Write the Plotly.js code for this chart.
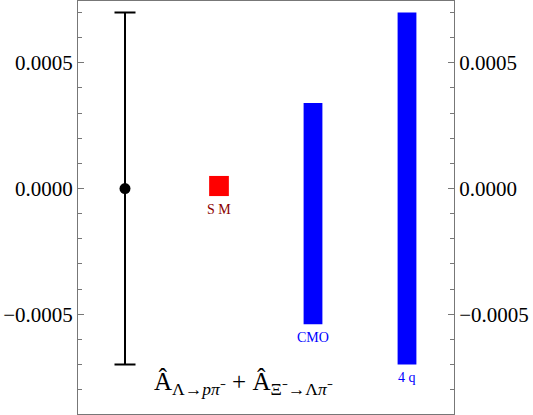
<!DOCTYPE html>
<html>
<head>
<meta charset="utf-8">
<script src="https://cdn.plot.ly/plotly-3.0.1.min.js"></script>
<style>
  body { margin: 0; background: #fff; }
  #plot { width: 533px; height: 415px; }
</style>
</head>
<body>
<div id="plot"></div>
<script>
// measured value (with error) and predictions
var expX = [1];
var expY = [0];
var expErr = [0.0007];

var predNames = ['SM', 'CMO', '4q'];
var predX = [2, 3, 4];
var predLow = [-0.00003, -0.00054, -0.0007];
var predHigh = [0.00005, 0.00034, 0.0007];
var predColors = ['#ff0000', '#0000ff', '#0000ff'];
var labelText = ['S M', 'CMO', '4 q'];
var labelColors = ['#8b0000', '#0000ff', '#0000ff'];
var labelY = [-0.000084, -0.000594, -0.000753];

var yTicks = [-0.0005, 0, 0.0005];
var yTickText = ['\u22120.0005', '0.0000', '0.0005'];

var serif = 'Liberation Serif, Times New Roman, serif';

var expTrace = {
    x: expX,
    y: expY,
    type: 'scatter',
    mode: 'markers',
    marker: { color: '#000', size: 11 },
    error_y: { type: 'data', array: expErr, visible: true, color: '#000', thickness: 2, width: 10.5 },
    hoverinfo: 'skip'
};

var heights = predHigh.map(function(h, i) { return h - predLow[i]; });

var predTrace = {
    x: predX,
    y: heights,
    base: predLow,
    type: 'bar',
    width: [0.21, 0.2, 0.2],
    marker: { color: predColors, line: { width: 0 } },
    hoverinfo: 'skip'
};

// invisible trace to hold the right axis
var rightTrace = {
    x: [1],
    y: [0],
    yaxis: 'y2',
    type: 'scatter',
    mode: 'markers',
    marker: { opacity: 0 },
    hoverinfo: 'skip'
};

var annotations = [];
predX.forEach(function(x, i) {
    annotations.push({
        x: x, y: labelY[i], xref: 'x', yref: 'y',
        text: labelText[i], showarrow: false,
        font: { family: serif, size: 14, color: labelColors[i] },
        xanchor: 'center', yanchor: 'middle'
    });
});
annotations.push({
    x: 0.44, y: 0.075, xref: 'paper', yref: 'paper',
    text: '\u00C2<sub>\u039B\u2192<i>p\u03C0</i>\u207B</sub> + \u00C2<sub>\u039E\u207B\u2192\u039B<i>\u03C0</i>\u207B</sub>',
    showarrow: false,
    font: { family: serif, size: 25, color: '#000' },
    xanchor: 'center', yanchor: 'middle'
});

var yRange = [-0.000897, 0.000746];
var axisCommon = {
    range: yRange,
    tickvals: yTicks,
    ticktext: yTickText,
    ticks: 'inside',
    ticklen: 6,
    tickwidth: 1,
    tickcolor: '#777',
    showgrid: false,
    zeroline: false,
    showline: true,
    linecolor: '#777',
    linewidth: 1,
    tickfont: { family: serif, size: 21, color: '#000' },
    minor: { dtick: 0.0001, tick0: 0, ticks: 'inside', ticklen: 4, tickcolor: '#777', showgrid: false }
};

var yaxis = Object.assign({}, axisCommon, { side: 'left', mirror: false });
var yaxis2 = Object.assign({}, axisCommon, { side: 'right', overlaying: 'y', anchor: 'x' });

var layout = {
    width: 533,
    height: 415,
    margin: { l: 78, r: 79, t: 1, b: 1, pad: 0 },
    paper_bgcolor: '#fff',
    plot_bgcolor: '#fff',
    showlegend: false,
    xaxis: {
        range: [0.5, 4.5],
        showticklabels: false,
        ticks: '',
        showgrid: false,
        zeroline: false,
        showline: true,
        mirror: true,
        linecolor: '#777',
        linewidth: 1
    },
    yaxis: yaxis,
    yaxis2: yaxis2,
    annotations: annotations
};

Plotly.newPlot('plot', [predTrace, expTrace, rightTrace], layout, { displayModeBar: false, staticPlot: true });
</script>
</body>
</html>
